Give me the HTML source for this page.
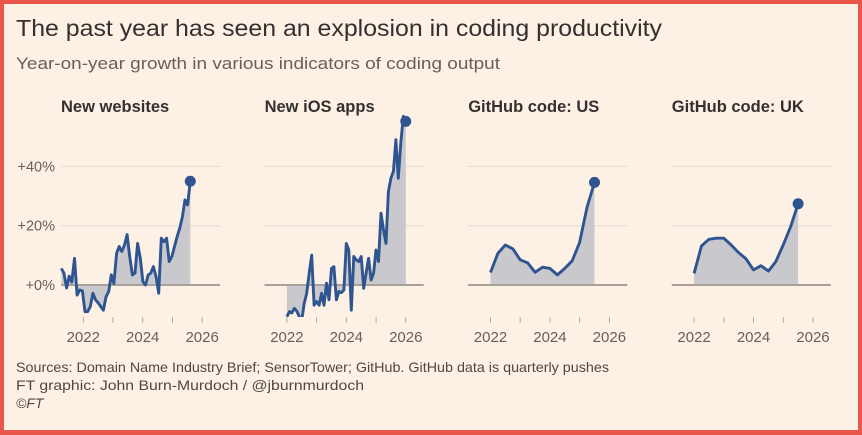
<!DOCTYPE html>
<html><head><meta charset="utf-8"><style>
html,body{margin:0;padding:0;background:#fff1e5;}
svg{display:block;font-family:"Liberation Sans",sans-serif;}
</style></head><body>
<svg id="chart" width="862" height="435" viewBox="0 0 862 435">
<rect x="0" y="0" width="862" height="435" fill="#e8574a"/>
<rect x="4" y="4" width="854" height="426" fill="#fdf1e6"/>
<text x="16" y="36" font-size="23" fill="#33302e" textLength="646" lengthAdjust="spacingAndGlyphs">The past year has seen an explosion in coding productivity</text>
<text x="16" y="69" font-size="17" fill="#66605c" textLength="484" lengthAdjust="spacingAndGlyphs">Year-on-year growth in various indicators of coding output</text>
<g id="panels"></g>
<text x="16" y="372" font-size="14" fill="#4d4845" textLength="593" lengthAdjust="spacingAndGlyphs">Sources: Domain Name Industry Brief; SensorTower; GitHub. GitHub data is quarterly pushes</text>
<text x="16" y="390" font-size="14" fill="#4d4845" textLength="348" lengthAdjust="spacingAndGlyphs">FT graphic: John Burn-Murdoch / @jburnmurdoch</text>
<text x="16" y="408" font-size="14" fill="#4d4845" font-style="italic">©FT</text>
</svg>
<script>
const panelTitles = ["New websites", "New iOS apps", "GitHub code: US", "GitHub code: UK"];
const yTicks = [0, 20, 40];
const yTickLabels = ["+0%", "+20%", "+40%"];
const xTicks = [2022, 2023, 2024, 2025, 2026];
const xTickLabels = ["2022", "2024", "2026"];
const seriesStart = [2021.26, 2022.0, 2022.0, 2022.0];
const seriesEnd = [2025.6, 2026.0, 2025.5, 2025.5];
const websites = [5.6,4,-1,3,1,9,-3.4,-1.7,-2,-9,-9,-7.3,-2.8,-5,-6,-7.3,-8.5,-4,-2.2,3.4,0.5,10.7,13,11.3,13.5,17,9.6,3.4,4,14,9,1.1,0,3.4,4,6.2,2.8,-2.8,15.8,14.6,15.8,7.9,9.6,13,16.3,19.2,23,28.7,27,35];
const iosApps = [-10.7,-9,-9.4,-7.9,-8.8,-10.7,-12,-6.2,-2.8,4,10.1,-6.8,-5.6,-6.8,-2.8,-6.8,0.6,-5,5.6,6.2,-5,-2.2,-2.6,-1.7,14,11.8,-8.5,9.6,8.5,7.9,9.6,-1.1,4,9,1.7,4,11.8,7.9,24.2,18.6,14,31.5,36,38.3,49,36,47.9,56.9,55.2];
const githubUS = [4.2,10.7,13.5,12.2,8.5,7.5,4.3,6,5.6,3.4,5.6,8.2,14.3,26.3,34.6];
const githubUK = [3.9,13.2,15.4,15.8,15.8,13.5,10.9,8.8,5.1,6.5,4.7,7.9,13.5,19.7,27.4];
const allSeries = [websites, iosApps, githubUS, githubUK];

const NS = "http://www.w3.org/2000/svg";
const root = document.getElementById("panels");
const plotTop = 135, plotBottom = 317, zeroY = 285, pxPerPct = 2.965;
const xDomain = [2021.25, 2026.6];
function mk(tag, attrs, parent) {
  const e = document.createElementNS(NS, tag);
  for (const k in attrs) e.setAttribute(k, attrs[k]);
  parent.appendChild(e);
  return e;
}
const defs = mk("defs", {}, root);
allSeries.forEach((vals, p) => {
  const left = 61 + p * 203.6, width = 159;
  const xs = v => left + (v - xDomain[0]) / (xDomain[1] - xDomain[0]) * width;
  const ys = v => zeroY - v * pxPerPct;
  const g = mk("g", {}, root);
  
  
  const t = mk("text", {x: left, y: 112, "font-size": 16.5, "font-weight": "bold", fill: "#33302e"}, g);
  t.textContent = panelTitles[p];
  
  
  yTicks.forEach((v, i) => {
    const gl = mk("line", {x1: left, x2: left + width, y1: ys(v), y2: ys(v), stroke: v === 0 ? "#9e958d" : "#e3d8ce", "stroke-width": v === 0 ? 1.6 : 1}, g);
    
    
    if (p === 0) {
      const lt = mk("text", {x: 55, y: ys(v) + 5, "font-size": 14.5, fill: "#66605c", "text-anchor": "end"}, g);
      lt.textContent = yTickLabels[i];
      
      
    }
  });
  xTicks.forEach(v => {
    const tk = mk("line", {x1: xs(v), x2: xs(v), y1: 317, y2: 323, stroke: "#b3a99f", "stroke-width": 1}, g);
    
    
  });
  xTickLabels.forEach(s => {
    const lt = mk("text", {x: xs(+s), y: 342, "font-size": 15, fill: "#66605c", "text-anchor": "middle"}, g);
    lt.textContent = s;
    
    
  });
  const cp = mk("clipPath", {id: "clip" + p}, defs);
  mk("rect", {x: left - 2, y: 100, width: width + 10, height: plotBottom - 100}, cp);
  const n = vals.length, s0 = seriesStart[p], s1 = seriesEnd[p];
  const pts = vals.map((v, i) => [xs(s0 + (s1 - s0) * i / (n - 1)), ys(v)]);
  const line = pts.map((q, i) => (i ? "L" : "M") + q[0].toFixed(1) + "," + q[1].toFixed(1)).join("");
  const area = line + "L" + pts[n - 1][0].toFixed(1) + "," + zeroY + "L" + pts[0][0].toFixed(1) + "," + zeroY + "Z";
  const cg = mk("g", {"clip-path": "url(#clip" + p + ")"}, g);
  const a = mk("path", {d: area, fill: "#c9c8cc"}, cg);
  
  
  const zl = mk("line", {x1: left, x2: left + width, y1: zeroY, y2: zeroY, stroke: "#9e958d", "stroke-width": 1.6}, cg);
  
  
  const l = mk("path", {d: line, fill: "none", stroke: "#2e5590", "stroke-width": 2.9, "stroke-linejoin": "round"}, cg);
  
  
  const d = mk("circle", {cx: pts[n - 1][0], cy: pts[n - 1][1], r: 5.5, fill: "#2e5590"}, g);
  
  
});
</script>
</body></html>
